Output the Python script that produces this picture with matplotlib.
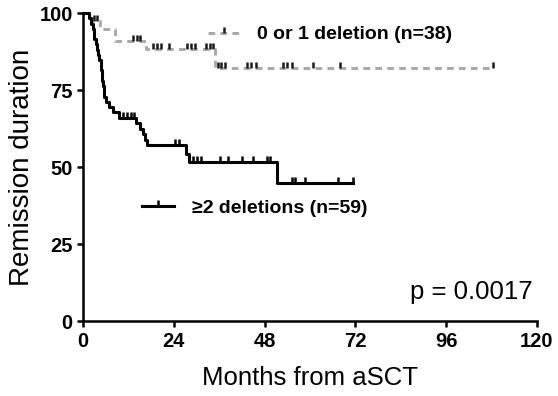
import numpy as np
import matplotlib
matplotlib.use("Agg")
import matplotlib.pyplot as plt
from matplotlib.path import Path
from matplotlib.lines import Line2D

plt.rcParams['font.family'] = ['Liberation Sans', 'DejaVu Sans']

# >=2 deletions (n=59): step times and survival after each step
hi_t = [0, 1.5, 2.0, 2.5, 3.0, 3.3, 3.7, 4.0, 4.3, 4.6, 5.0, 5.3, 5.6, 6.0, 6.8, 7.8,
        9.5, 14.0, 15.0, 15.8, 16.3, 17.0, 27.3, 28.0, 51.4]
hi_s = [100, 98.3, 96.6, 94.9, 91.5, 89.8, 88.1, 86.4, 84.7, 81.4, 78.0, 76.3, 72.9, 71.2, 69.5, 67.8,
        66.1, 64.3, 62.5, 60.7, 58.9, 57.1, 54.4, 51.7, 44.8]
hi_end = 71.4
hi_cens = [10.6, 11.6, 12.6, 13.4, 24.4, 25.4, 29.1, 30.1, 31.2, 36.2, 38.4, 42.0, 44.8, 48.7, 49.5,
           55.3, 56.1, 58.8, 67.3, 71.4]

# 0 or 1 deletion (n=38)
lo_t = [0, 2.0, 4.5, 8.5, 16.6, 35.0]
lo_s = [100, 97.4, 94.7, 90.9, 88.4, 82.1]
lo_end = 108.4
lo_cens = [2.9, 3.7, 13.3, 14.2, 15.1, 18.6, 19.6, 20.6, 22.7, 27.5, 28.6, 29.6, 32.6, 33.6, 34.4,
           35.6, 36.4, 37.4, 43.3, 44.4, 45.8, 52.8, 54.0, 55.2, 60.8, 67.9, 108.4]

xticks = [0, 24, 48, 72, 96, 120]
yticks = [0, 25, 50, 75, 100]

tick = Path([(0, 0), (0, 1)], [Path.MOVETO, Path.LINETO])
gray = '#a8a8a8'


def surv_at(times, surv, t):
    i = np.searchsorted(times, t, side='right') - 1
    return np.array(surv)[i]


fig = plt.figure(figsize=(5.58, 3.96), dpi=100)
ax = fig.add_axes([0.149, 0.189, 0.813, 0.778])

# grey curve
ax.step(lo_t + [lo_end], lo_s + [lo_s[-1]], where='post', color=gray, lw=2.1,
        dashes=(2.3, 1.8), clip_on=False, zorder=2)
ax.plot(lo_cens, surv_at(lo_t, lo_s, lo_cens), ls='none', marker=tick, ms=9, mew=1.8,
        color='#1a1a1a', clip_on=False, zorder=3)

# black curve
ax.step(hi_t + [hi_end], hi_s + [hi_s[-1]], where='post', color='black', lw=2.2,
        clip_on=False, zorder=2)
ax.plot(hi_cens, surv_at(hi_t, hi_s, hi_cens), ls='none', marker=tick, ms=9, mew=1.8,
        color='black', clip_on=False, zorder=3)

ax.set_xlim(0, 120)
ax.set_ylim(0, 100)
ax.set_xticks(xticks)
ax.set_yticks(yticks)
for s in ['top', 'right']:
    ax.spines[s].set_visible(False)
for s in ['left', 'bottom']:
    ax.spines[s].set_linewidth(1.8)
ax.tick_params(direction='out', length=4.5, width=1.8, pad=3, labelsize=14.5)
for lab in ax.get_xticklabels() + ax.get_yticklabels():
    lab.set_fontweight('bold')

ax.set_xlabel('Months from aSCT', fontsize=18.5, labelpad=11)
ax.set_ylabel('Remission duration', fontsize=20, labelpad=3)

h_lo = Line2D([], [], color=gray, lw=2.1, dashes=(2.3, 1.8), marker=tick, ms=9, mew=1.8,
              mec='#1a1a1a')
h_hi = Line2D([], [], color='black', lw=2.2, marker=tick, ms=9, mew=1.8)
leg1 = ax.legend([h_lo], ['0 or 1 deletion (n=38)'], loc='center left', bbox_to_anchor=(0.275, 0.93),
                 frameon=False, borderpad=0, borderaxespad=0, handlelength=1.65, handletextpad=0.9,
                 numpoints=1, prop={'weight': 'bold', 'size': 14})
ax.add_artist(leg1)
ax.legend([h_hi], ['≥2 deletions (n=59)'], loc='center left', bbox_to_anchor=(0.13, 0.368),
          frameon=False, borderpad=0, borderaxespad=0, handlelength=1.65, handletextpad=0.9,
          numpoints=1, prop={'weight': 'bold', 'size': 14})

ax.text(0.991, 0.071, 'p = 0.0017', transform=ax.transAxes, ha='right', va='baseline', fontsize=18.5)

fig.savefig('out.png', dpi=100)
